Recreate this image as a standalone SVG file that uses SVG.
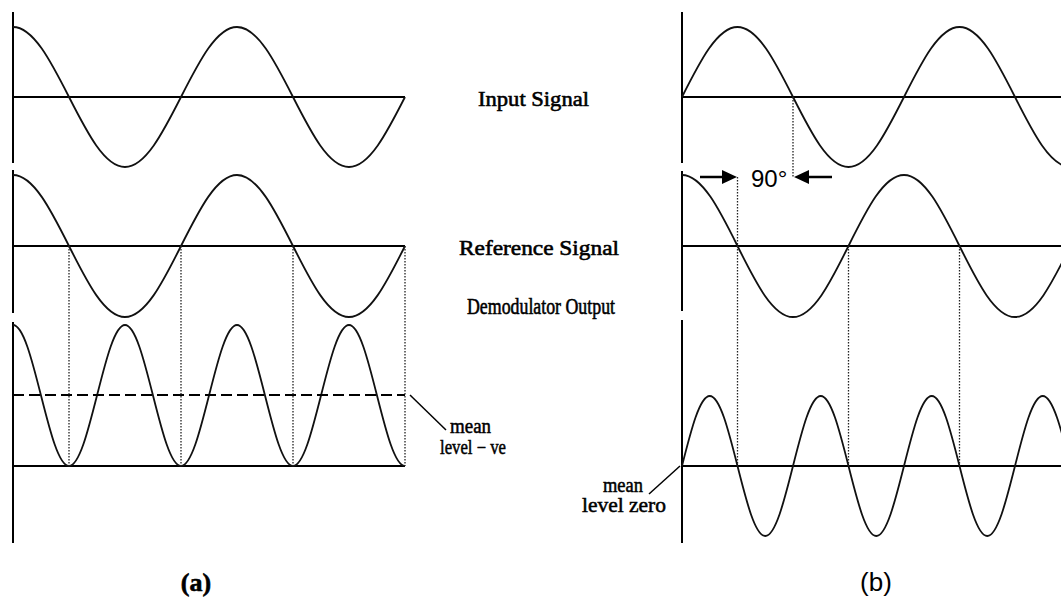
<svg xmlns="http://www.w3.org/2000/svg" width="1061" height="599" viewBox="0 0 1061 599">
<style>
.ax{stroke:#000;stroke-width:2;fill:none}
.wave{stroke:#111;stroke-width:1.8;fill:none}
.dot{stroke:#222;stroke-width:1.3;stroke-dasharray:1.5,1.5;fill:none}
.dash{stroke:#000;stroke-width:2;stroke-dasharray:11,5;fill:none}
.lead{stroke:#000;stroke-width:1.5;fill:none}
.arr{stroke:#000;stroke-width:2.5;fill:none}
.head{fill:#000}
.lbl{font-family:"Liberation Serif","Times New Roman",serif;font-size:22px;fill:#000;stroke:#000;stroke-width:0.6}
.small{font-family:"Liberation Serif","Times New Roman",serif;font-size:20px;fill:#000;stroke:#000;stroke-width:0.5}
.sans{font-family:"Liberation Sans",Arial,sans-serif;font-size:24px;fill:#000}
</style>
<rect width="1061" height="599" fill="#fff"/>

<g id="panel-a">
<g id="axes-a">
<line class="ax" x1="13" y1="12" x2="13" y2="163"/>
<line class="ax" x1="13" y1="170" x2="13" y2="313"/>
<line class="ax" x1="13" y1="322" x2="13" y2="543"/>
<line class="ax" x1="13" y1="97" x2="405" y2="97"/>
<line class="ax" x1="13" y1="246" x2="405" y2="246"/>
<line class="ax" x1="13" y1="466" x2="405" y2="466"/>
</g>
<g id="input-a">
<path class="wave" d="M13,27 C33.27,27 50.74,61.14 69,97 S104.73,167 125,167 S162.74,132.86 181,97 S216.73,27 237,27 S274.74,61.14 293,97 S328.73,167 349,167 S386.74,132.86 405,97"/>
</g>
<g id="reference-a">
<path class="wave" d="M13,175 C33.27,175 50.74,209.63 69,246 S104.73,317 125,317 S162.74,282.37 181,246 S216.73,175 237,175 S274.74,209.63 293,246 S328.73,317 349,317 S386.74,282.37 405,246"/>
</g>
<g id="output-a">
<path class="wave" d="M13,325 C23.13,325 31.87,359.38 41,395.5 S58.87,466 69,466 S87.87,431.62 97,395.5 S114.87,325 125,325 S143.87,359.38 153,395.5 S170.87,466 181,466 S199.87,431.62 209,395.5 S226.87,325 237,325 S255.87,359.38 265,395.5 S282.87,466 293,466 S311.87,431.62 321,395.5 S338.87,325 349,325 S367.87,359.38 377,395.5 S394.87,466 405,466"/>
<line class="dash" x1="13" y1="395" x2="405" y2="395"/>
</g>
<g id="mean-a">
<line class="lead" x1="410" y1="395" x2="446" y2="430"/>
<text class="small" x="450" y="433" textLength="41" lengthAdjust="spacingAndGlyphs">mean</text>
<text class="small" x="440" y="454" textLength="66" lengthAdjust="spacingAndGlyphs">level − ve</text>
</g>
<text class="lbl" x="196" y="591" text-anchor="middle" style="font-size:26px;font-weight:bold">(a)</text>
</g>

<g id="labels">
<text class="lbl" x="478" y="106" textLength="111" lengthAdjust="spacingAndGlyphs">Input Signal</text>
<text class="lbl" x="459" y="255" textLength="160" lengthAdjust="spacingAndGlyphs">Reference Signal</text>
<text class="lbl" x="467" y="314" textLength="148" lengthAdjust="spacingAndGlyphs" style="font-size:23px">Demodulator Output</text>
</g>

<g id="panel-b">
<g id="axes-b">
<line class="ax" x1="682" y1="12" x2="682" y2="163"/>
<line class="ax" x1="682" y1="171" x2="682" y2="311"/>
<line class="ax" x1="682" y1="320" x2="682" y2="543"/>
<line class="ax" x1="682" y1="97" x2="1061" y2="97"/>
<line class="ax" x1="682" y1="246" x2="1061" y2="246"/>
<line class="ax" x1="682" y1="466" x2="1061" y2="466"/>
</g>
<g id="input-b">
<path class="wave" d="M682,97 C700.10,61.14 717.41,27 737.5,27 S774.9,61.14 793,97 S828.41,167 848.5,167 S885.9,132.86 904,97 S939.41,27 959.5,27 S996.9,61.14 1015,97 S1050.41,167 1070.5,167"/>
</g>
<g id="reference-b">
<path class="wave" d="M682,175 C702.09,175 719.4,209.63 737.5,246 S772.91,317 793,317 S830.4,282.37 848.5,246 S883.91,175 904,175 S941.4,209.63 959.5,246 S994.91,317 1015,317 S1052.4,282.37 1070.5,246"/>
</g>
<g id="output-b">
<path class="wave" d="M682,466 C691.05,430.14 699.71,396 709.75,396 S728.45,430.14 737.5,466 S755.21,536 765.25,536 S783.95,501.86 793,466 S810.71,396 820.75,396 S839.45,430.14 848.5,466 S866.21,536 876.25,536 S894.95,501.86 904,466 S921.71,396 931.75,396 S950.45,430.14 959.5,466 S977.21,536 987.25,536 S1005.95,501.86 1015,466 S1032.71,396 1042.75,396 S1061.45,430.14 1070.5,466"/>
</g>
<g id="phase-marker">
<text class="sans" x="751" y="187">90°</text>
</g>
<g id="mean-b">
<line class="lead" x1="649" y1="494" x2="680" y2="466"/>
<text class="small" x="603" y="492" textLength="40" lengthAdjust="spacingAndGlyphs">mean</text>
<text class="small" x="582" y="512" textLength="84" lengthAdjust="spacingAndGlyphs">level zero</text>
</g>
<text class="sans" x="876" y="591" text-anchor="middle" style="font-size:26px">(b)</text>
</g>

<g id="connectors">
<line class="dot" x1="69" y1="246" x2="69" y2="466"/>
<line class="dot" x1="181" y1="246" x2="181" y2="466"/>
<line class="dot" x1="293" y1="246" x2="293" y2="466"/>
<line class="dot" x1="405" y1="246" x2="405" y2="466"/>
<line class="dot" x1="793" y1="97" x2="793" y2="177"/>
<line class="dot" x1="737.5" y1="177" x2="737.5" y2="466"/>
<line class="dot" x1="848.5" y1="246" x2="848.5" y2="466"/>
<line class="dot" x1="959.5" y1="246" x2="959.5" y2="466"/>
<line class="arr" x1="700" y1="177" x2="724" y2="177"/>
<polygon class="head" points="722,170 737,177 722,184"/>
<line class="arr" x1="832" y1="177" x2="807" y2="177"/>
<polygon class="head" points="809,170 794,177 809,184"/>
</g>
</svg>
